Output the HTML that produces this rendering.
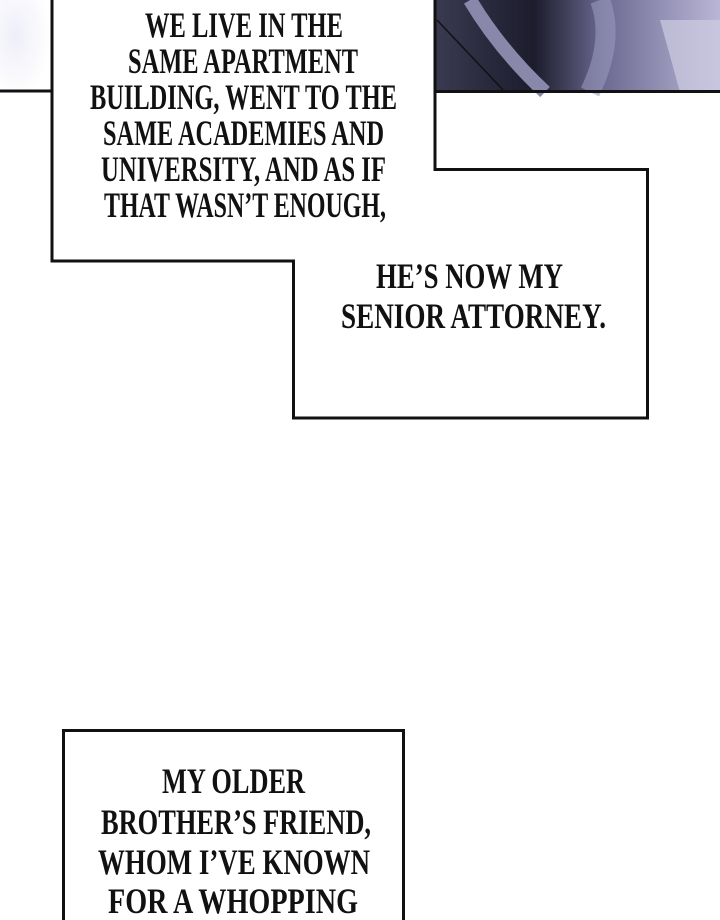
<!DOCTYPE html>
<html><head><meta charset="utf-8"><style>html,body{margin:0;padding:0;background:#fff;}svg{display:block}</style></head><body>
<svg width="720" height="920" viewBox="0 0 720 920" xmlns="http://www.w3.org/2000/svg">
<defs>
<linearGradient id="g1" x1="0" y1="0" x2="1" y2="0">
<stop offset="0" stop-color="#3a3a52"/><stop offset="0.35" stop-color="#1c1c2c"/><stop offset="0.6" stop-color="#6e6c94"/><stop offset="1" stop-color="#b9b6d6"/>
</linearGradient>
<radialGradient id="blob" cx="0.3" cy="0.4" r="0.7"><stop offset="0" stop-color="#eeeef8"/><stop offset="1" stop-color="#fff"/></radialGradient>
</defs>
<rect x="0" y="0" width="51" height="90" fill="url(#blob)"/>
<rect x="434" y="0" width="286" height="92" fill="url(#g1)"/>
<path d="M437 20 L505 92" stroke="#111" stroke-width="1.5" fill="none"/>
<path d="M470 0 Q500 50 545 92" stroke="#8a88aa" stroke-width="14" fill="none"/>
<path d="M600 0 Q615 40 590 92" stroke="#9a98bc" stroke-width="20" fill="none" opacity="0.6"/>
<polygon points="660,20 720,20 720,92 680,92" fill="#cfcce2" opacity="0.7"/>
<line x1="0" y1="91" x2="51" y2="91" stroke="#111" stroke-width="3"/>
<line x1="434" y1="91.5" x2="720" y2="91.5" stroke="#111" stroke-width="3"/>
<path d="M52 0 V261 H293.5 V418 H647.5 V169.5 H435 V0" fill="#fff" stroke="#111" stroke-width="3"/>
<rect x="63.5" y="730.5" width="340" height="200" fill="#fff" stroke="#111" stroke-width="3"/>
<g font-family="'Liberation Serif', serif" font-weight="bold" font-size="36" fill="#111" lengthAdjust="spacingAndGlyphs">
<text x="145" y="37" textLength="198" lengthAdjust="spacingAndGlyphs">WE LIVE IN THE</text>
<text x="128" y="73" textLength="230" lengthAdjust="spacingAndGlyphs">SAME APARTMENT</text>
<text x="90" y="109" textLength="307" lengthAdjust="spacingAndGlyphs">BUILDING, WENT TO THE</text>
<text x="103" y="145" textLength="281" lengthAdjust="spacingAndGlyphs">SAME ACADEMIES AND</text>
<text x="101" y="181" textLength="285" lengthAdjust="spacingAndGlyphs">UNIVERSITY, AND AS IF</text>
<text x="104" y="217" textLength="282" lengthAdjust="spacingAndGlyphs">THAT WASN’T ENOUGH,</text>
<text x="376" y="288" textLength="187" lengthAdjust="spacingAndGlyphs">HE’S NOW MY</text>
<text x="341" y="328" textLength="265" lengthAdjust="spacingAndGlyphs">SENIOR ATTORNEY.</text>
<text x="162" y="793" textLength="143" lengthAdjust="spacingAndGlyphs">MY OLDER</text>
<text x="101" y="834" textLength="270" lengthAdjust="spacingAndGlyphs">BROTHER’S FRIEND,</text>
<text x="98" y="874" textLength="272" lengthAdjust="spacingAndGlyphs">WHOM I’VE KNOWN</text>
<text x="108" y="913" textLength="250" lengthAdjust="spacingAndGlyphs">FOR A WHOPPING</text>
</g>
</svg>
</body></html>
